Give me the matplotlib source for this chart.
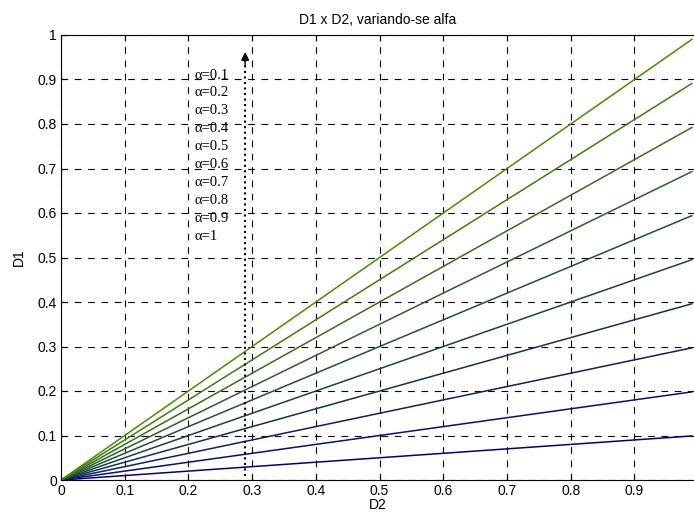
import numpy as np
import matplotlib
matplotlib.use("Agg")
import matplotlib.pyplot as plt

# alpha values, one line each: D1 = alpha * D2
alphas = [0.1, 0.2, 0.3, 0.4, 0.5, 0.6, 0.7, 0.8, 0.9, 1.0]
alpha_labels = ["\u03b1=0.1", "\u03b1=0.2", "\u03b1=0.3", "\u03b1=0.4", "\u03b1=0.5",
                "\u03b1=0.6", "\u03b1=0.7", "\u03b1=0.8", "\u03b1=0.9", "\u03b1=1"]
d2 = np.arange(0, 1.0, 0.01)  # 0 .. 0.99

xticks = [0, 0.1, 0.2, 0.3, 0.4, 0.5, 0.6, 0.7, 0.8, 0.9]
yticks = [0, 0.1, 0.2, 0.3, 0.4, 0.5, 0.6, 0.7, 0.8, 0.9, 1]

plt.rcParams['font.family'] = ['Liberation Sans', 'DejaVu Sans']
plt.rcParams['font.size'] = 10

fig = plt.figure(figsize=(6.94, 5.13), dpi=100)
ax = fig.add_axes([61/694, 33/513, 634/694, 445/513])

c0 = np.array([0.0, 0.0, 0.5])
c1 = np.array([0.27, 0.56, 0.0])
for a in alphas:
    t = (a - 0.1) / 0.9
    col = c0 + (c1 - c0) * t
    ax.plot(d2, a * d2, color=col, lw=1.1)

ax.set_xlim(0, 0.995)
ax.set_ylim(0, 1)
ax.set_xticks(xticks)
ax.set_yticks(yticks)
ax.set_xticklabels(["0", "0.1", "0.2", "0.3", "0.4", "0.5", "0.6", "0.7", "0.8", "0.9"])
ax.set_yticklabels(["0", "0.1", "0.2", "0.3", "0.4", "0.5", "0.6", "0.7", "0.8", "0.9", "1"])
ax.tick_params(direction="in", top=True, right=False, length=4, pad=3)
ax.grid(True, color="black", linestyle=(0, (6, 6)), lw=0.8)
ax.spines["right"].set_visible(False)

ax.set_title("D1 x D2, variando-se alfa", fontsize=10, pad=8)
ax.set_xlabel("D2", labelpad=0)
ax.set_ylabel("D1", labelpad=8)

# labels for each alpha, stacked
for i, lab in enumerate(alpha_labels):
    ax.text(0.21, 0.91 - i * 0.0402, lab, family=["Liberation Serif", "DejaVu Serif"],
            fontsize=10.5, va="center", ha="left")

# dotted arrow: dotted shaft plus solid head
ax.plot([0.289, 0.289], [0.01, 0.945], color="black", linestyle=":", lw=1.5)
ax.annotate("", xy=(0.289, 0.962), xytext=(0.289, 0.93),
            arrowprops=dict(arrowstyle="-|>", color="black", lw=1.0,
                            mutation_scale=12, shrinkA=0, shrinkB=0))

fig.savefig("out.png", dpi=100)
